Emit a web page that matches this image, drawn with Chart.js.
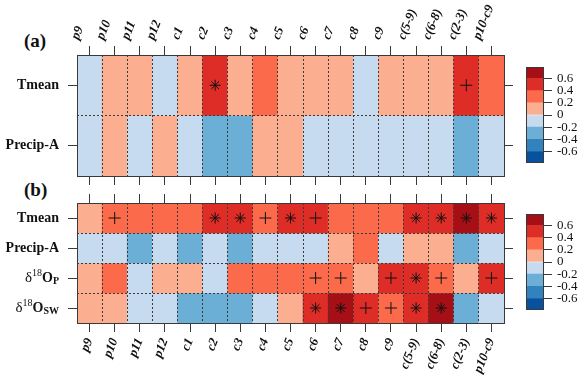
<!DOCTYPE html>
<html>
<head>
<meta charset="utf-8">
<script src="https://cdn.jsdelivr.net/npm/chart.js@4"></script>
<style>
  body { margin: 0; background: #fff; width: 581px; height: 375px; position: relative; overflow: hidden; }
  canvas { position: absolute; }
  .tag { position: absolute; font: bold 19px "Liberation Serif", serif; line-height: 19px; color: #111; }
</style>
</head>
<body>
<div class="tag" style="left:24px;top:31px">(a)</div>
<div class="tag" style="left:24px;top:180px">(b)</div>
<canvas id="chartA" width="520" height="186" style="left:0;top:0"></canvas>
<canvas id="chartB" width="520" height="189" style="left:0;top:186px"></canvas>
<canvas id="barA" width="61" height="120" style="left:520px;top:55px"></canvas>
<canvas id="barB" width="61" height="120" style="left:520px;top:202px"></canvas>
<script>
// Columnas (meses / periodos) y filas
const columns = ['p9','p10','p11','p12','c1','c2','c3','c4','c5','c6','c7','c8','c9','c(5-9)','c(6-8)','c(2-3)','p10-c9'];
const rowsA = ['Tmean','Precip-A'];
const rowsB = ['Tmean','Precip-A','δ18OP','δ18OSW'];

// Panel (a): correlaciones
const tmeanA  = [-0.1,0.1,0.1,-0.1,0.1,0.5,0.1,0.3,0.1,0.1,0.1,-0.1,0.1,0.1,0.1,0.5,0.3];
const precipA = [-0.1,0.1,-0.1,0.1,-0.1,-0.3,-0.3,0.1,0.1,-0.1,-0.1,-0.1,-0.1,-0.1,-0.1,-0.3,-0.1];
const tmeanSigA  = ['','','','','','*','','','','','','','','','','+',''];
const precipSigA = ['','','','','','','','','','','','','','','','',''];

// Panel (b): correlaciones
const tmeanB  = [0.1,0.3,0.3,0.3,0.3,0.5,0.5,0.3,0.5,0.5,0.3,0.3,0.3,0.5,0.5,0.65,0.5];
const precipB = [-0.1,-0.1,-0.3,-0.1,-0.3,-0.1,-0.3,-0.1,-0.1,-0.1,0.1,0.3,-0.1,0.1,0.1,-0.3,-0.1];
const d18OpB  = [0.1,0.3,-0.1,0.1,0.1,-0.1,0.3,0.3,0.3,0.3,0.3,0.1,0.5,0.5,0.3,0.1,0.5];
const d18OswB = [0.1,0.1,-0.1,-0.1,-0.3,-0.3,-0.3,-0.1,0.1,0.5,0.65,0.5,0.3,0.5,0.65,-0.3,-0.1];
const tmeanSigB  = ['','+','','','','*','*','+','*','+','','','','*','*','*','*'];
const precipSigB = ['','','','','','','','','','','','','','','','',''];
const d18OpSigB  = ['','','','','','','','','','+','+','','+','*','+','','+'];
const d18OswSigB = ['','','','','','','','','','*','*','+','+','*','*','',''];

// Escala de colores
const colorEdges = [-0.8,-0.6,-0.4,-0.2,0,0.2,0.4,0.6,0.8];
const palette = ['#08519c','#3182bd','#6baed6','#c6dbef','#fcae91','#fb6a4a','#de2d26','#a50f15'];
const legendTicks = [-0.6,-0.4,-0.2,0,0.2,0.4,0.6];

const axisColor = '#3a3a3a';
const dotColor = '#3a3a3a';
const serif = '"Liberation Serif", serif';

function colorFor(v) {
  for (let i = 0; i < palette.length; i++) {
    if (v < colorEdges[i + 1]) return palette[i];
  }
  return palette[palette.length - 1];
}
const fixH = h => s => { s.height = h; };
const fixW = w => s => { s.width = w; };

// Etiquetas de filas con superíndice / subíndice
function splitLabel(name) {
  const big = 'bold 14px ' + serif;
  const m = /^δ18O(.+)$/.exec(name);
  if (!m) return [{text: name, font: big, dy: 0}];
  return [
    {text: 'δ', font: '15px ' + serif, dy: 0},
    {text: '18', font: '10px ' + serif, dy: -5},
    {text: 'O', font: big, dy: 0},
    {text: m[1], font: 'bold 10px ' + serif, dy: 3}
  ];
}
const rowLabels = {
  id: 'rowLabels',
  afterDraw(chart, args, opts) {
    const ctx = chart.ctx;
    const ys = chart.scales.y;
    opts.rows.forEach((name, i) => {
      const y = ys.getPixelForValue(i);
      const parts = splitLabel(name);
      let x = chart.chartArea.left - 18;
      ctx.save();
      ctx.textBaseline = 'middle';
      ctx.textAlign = 'right';
      ctx.fillStyle = '#111';
      for (let k = parts.length - 1; k >= 0; k--) {
        ctx.font = parts[k].font;
        ctx.fillText(parts[k].text, x, y + parts[k].dy);
        x -= ctx.measureText(parts[k].text).width;
      }
      ctx.restore();
    });
  }
};

// Mapa de calor
function heatmap(id, rows, values, sigs, labelPos, labelH, otherH) {
  const n = rows.length;
  const datasets = [];
  values.forEach((vals, r) => {
    datasets.push({
      type: 'bar', order: 1,
      data: vals.map(() => [r - 0.5, r + 0.5]),
      backgroundColor: vals.map(colorFor),
      grouped: false, barPercentage: 1, categoryPercentage: 1, borderWidth: 0
    });
  });
  const stars = [], pluses = [];
  sigs.forEach((row, r) => row.forEach((s, c) => {
    if (s === '*') stars.push({x: columns[c], y: r});
    if (s === '+') pluses.push({x: columns[c], y: r});
  }));
  const marker = (data, style, radius) => ({
    type: 'line', order: 0, showLine: false, data,
    pointStyle: style, pointRadius: radius,
    pointBorderColor: '#111', pointBackgroundColor: '#111', pointBorderWidth: 1
  });
  datasets.push(marker(stars, 'star', 5.5));
  datasets.push(marker(pluses, 'cross', 6));

  const other = labelPos === 'top' ? 'bottom' : 'top';
  const rowTicks = s => { s.ticks = rows.map((_, i) => ({value: i})); };
  const rowEdges = s => { s.ticks = [...rows.map((_, i) => ({value: i - 0.5})), {value: n - 0.5}]; };
  const tickGrid = {drawOnChartArea: false, tickLength: 9, color: axisColor, z: 1};
  const solid = {color: axisColor, z: 2};

  new Chart(document.getElementById(id), {
    type: 'bar',
    data: {labels: columns, datasets},
    options: {
      responsive: false, animation: false, events: [],
      layout: {padding: 0},
      plugins: {legend: {display: false}, tooltip: {enabled: false}, rowLabels: {rows}},
      scales: {
        x: {
          type: 'category', position: labelPos, offset: true,
          grid: Object.assign({offset: false}, tickGrid),
          border: solid,
          ticks: {
            minRotation: 68, maxRotation: 68, autoSkip: false, padding: 4, color: '#111',
            font: {family: serif, size: 13, weight: 'bold', style: 'italic'}
          },
          afterFit: fixH(labelH)
        },
        x2: {
          type: 'category', position: other, offset: true,
          grid: Object.assign({offset: false}, tickGrid),
          border: solid,
          ticks: {display: false},
          afterFit: fixH(otherH)
        },
        xg: {
          type: 'category', position: labelPos, offset: true,
          grid: {
            offset: true, drawTicks: false, z: 1,
            color: c => (c.type !== 'tick' || c.index === 0) ? 'rgba(0,0,0,0)' : dotColor
          },
          border: {display: false, dash: [2, 2]},
          ticks: {display: false},
          afterFit: fixH(0)
        },
        y: {
          type: 'linear', position: 'left', min: -0.5, max: n - 0.5, reverse: true,
          afterBuildTicks: rowTicks,
          grid: tickGrid, border: solid,
          ticks: {display: false},
          afterFit: fixW(77)
        },
        y2: {
          type: 'linear', position: 'right', min: -0.5, max: n - 0.5, reverse: true,
          afterBuildTicks: rowTicks,
          grid: tickGrid, border: solid,
          ticks: {display: false},
          afterFit: fixW(16)
        },
        yg: {
          type: 'linear', position: 'left', min: -0.5, max: n - 0.5, reverse: true,
          afterBuildTicks: rowEdges,
          grid: {
            drawTicks: false, z: 1,
            color: c => (c.index === 0 || c.index === n) ? 'rgba(0,0,0,0)' : dotColor
          },
          border: {display: false, dash: [2, 2]},
          ticks: {display: false},
          afterFit: fixW(0)
        }
      }
    },
    plugins: [rowLabels]
  });
}

// Barra de colores
function colorbar(id) {
  const datasets = palette.map((col, i) => ({
    data: [[colorEdges[i], colorEdges[i + 1]]],
    backgroundColor: col, grouped: false, barPercentage: 1, categoryPercentage: 1,
    borderWidth: 0, clip: 0
  }));
  const frame = {drawOnChartArea: false, drawTicks: false};
  const solid = {color: axisColor, z: 2};
  new Chart(document.getElementById(id), {
    type: 'bar',
    data: {labels: [''], datasets},
    options: {
      responsive: false, animation: false, events: [],
      layout: {padding: 0},
      plugins: {legend: {display: false}, tooltip: {enabled: false}},
      scales: {
        x: {position: 'bottom', grid: frame, border: solid, ticks: {display: false}, afterFit: fixH(6)},
        xt: {type: 'category', position: 'top', grid: frame, border: solid, ticks: {display: false}, afterFit: fixH(6)},
        y: {
          type: 'linear', position: 'right', min: -0.775, max: 0.775,
          afterBuildTicks: s => { s.ticks = legendTicks.map(v => ({value: v})); },
          grid: {drawOnChartArea: false, tickLength: 9, color: axisColor, z: 1},
          border: solid,
          ticks: {autoSkip: false, padding: 5, color: '#111', font: {family: serif, size: 13}, callback: v => String(v)},
          afterFit: fixW(38)
        },
        yl: {
          type: 'linear', position: 'left', min: -0.775, max: 0.775,
          grid: frame, border: solid, ticks: {display: false}, afterFit: fixW(6)
        }
      }
    }
  });
}

heatmap('chartA', rowsA, [tmeanA, precipA], [tmeanSigA, precipSigA], 'top', 55, 10);
heatmap('chartB', rowsB, [tmeanB, precipB, d18OpB, d18OswB], [tmeanSigB, precipSigB, d18OpSigB, d18OswSigB], 'bottom', 52, 17);
colorbar('barA');
colorbar('barB');
</script>
</body>
</html>
